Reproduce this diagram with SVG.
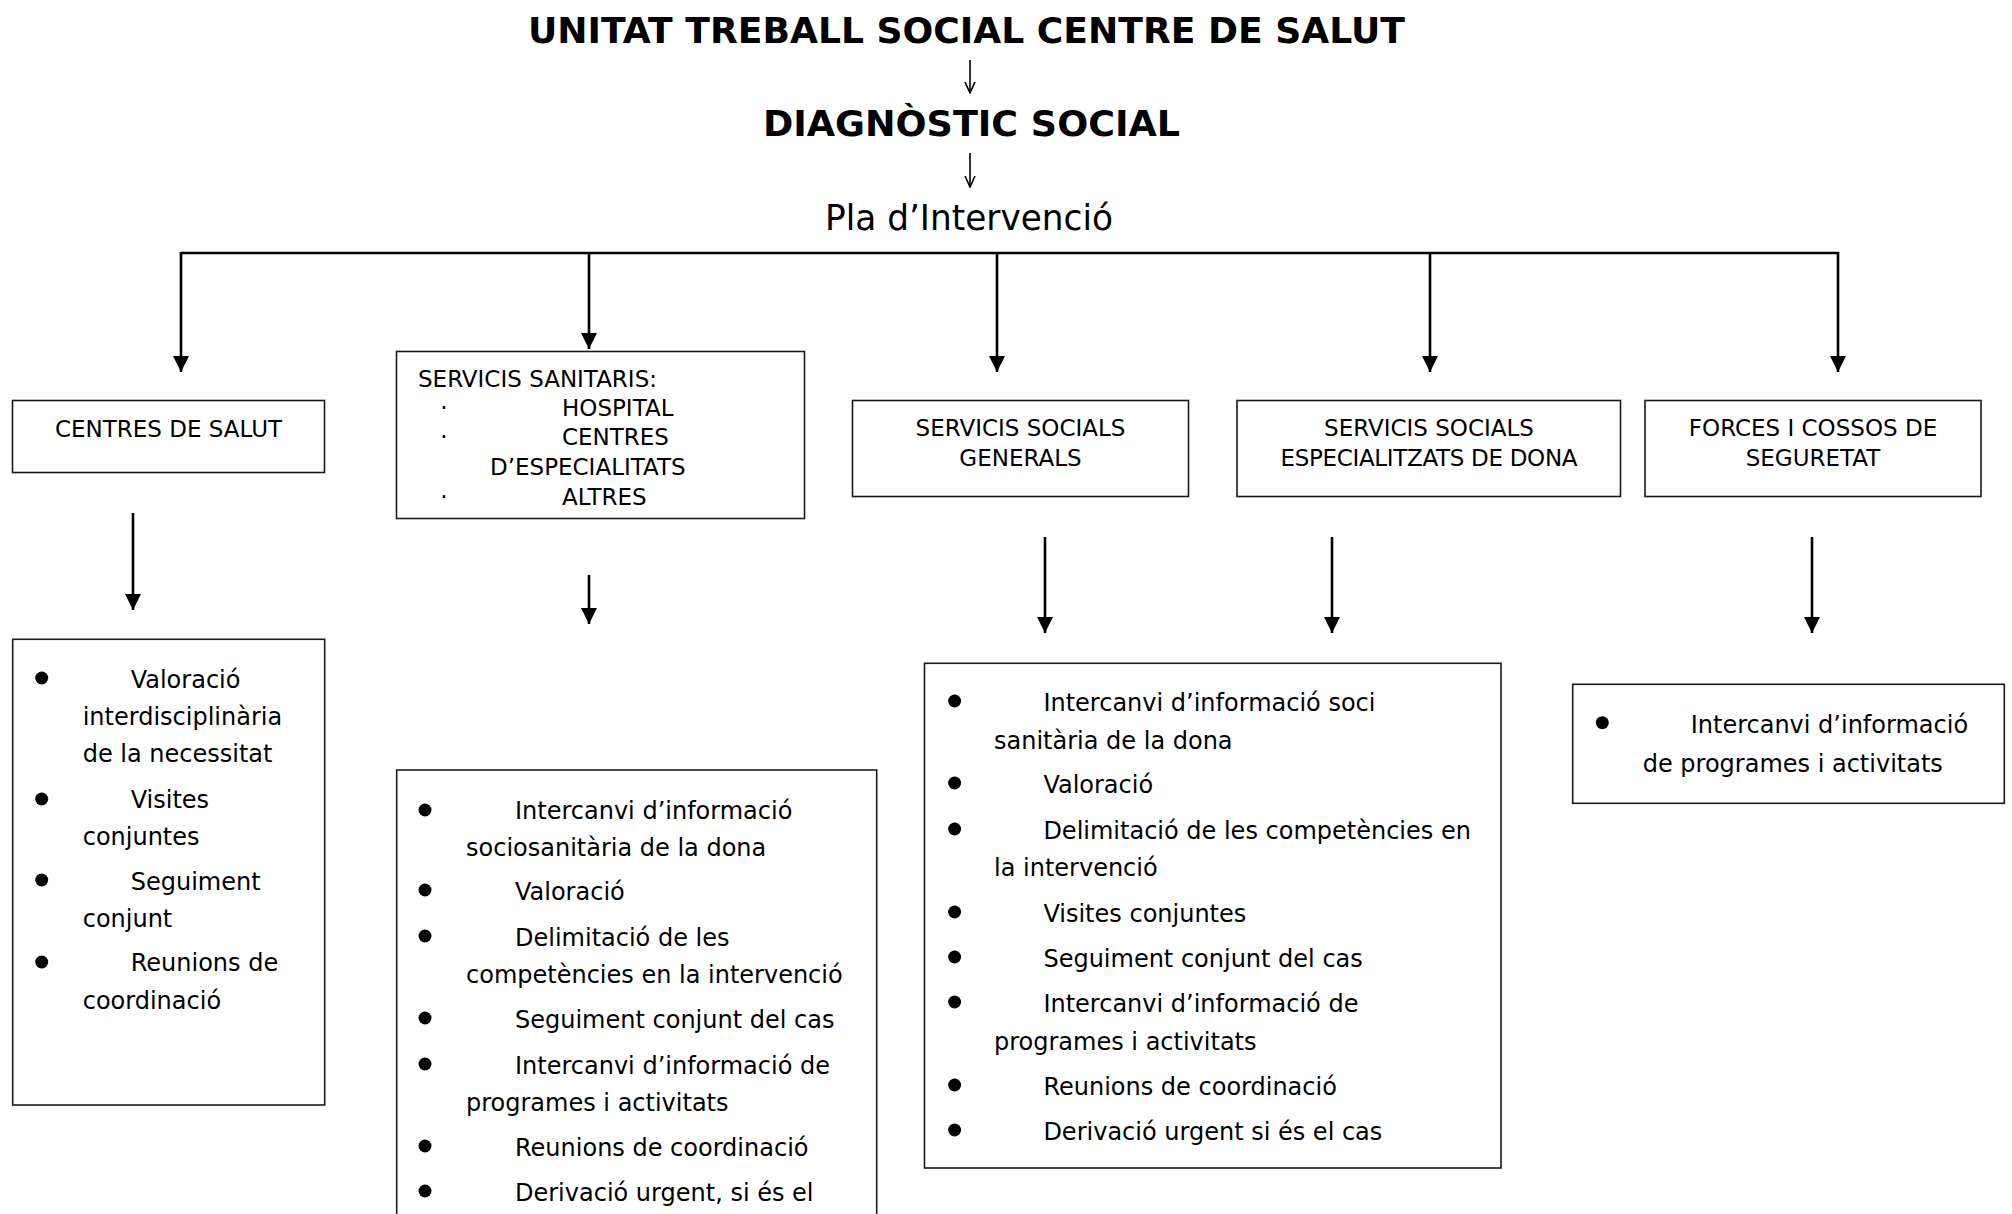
<svg xmlns="http://www.w3.org/2000/svg" width="2012" height="1214" viewBox="0 0 2012 1214">
  <style>
    .bg { fill: #ffffff; }
    .head { font-family: "DejaVu Sans", "Liberation Sans", sans-serif; font-weight: bold; font-size: 36px; fill: #000; text-anchor: middle; }
    .sub { font-family: "DejaVu Sans", "Liberation Sans", sans-serif; font-size: 35px; fill: #000; text-anchor: middle; }
    .box { fill: #ffffff; stroke: #1a1a1a; stroke-width: 1.6; }
    .lbl { font-family: "DejaVu Sans", "Liberation Sans", sans-serif; font-size: 23px; fill: #000; }
    .c { text-anchor: middle; }
    .item { font-family: "DejaVu Sans", "Liberation Sans", sans-serif; font-size: 24px; fill: #000; }
    .dot { fill: #000; }
    .wire { fill: none; stroke: #000; stroke-width: 2.6; }
    .thin { fill: none; stroke: #000; stroke-width: 1.6; }
  </style>
  <defs>
    <marker id="tri" viewBox="0 0 16 16" refX="16" refY="8" markerWidth="16" markerHeight="16" markerUnits="userSpaceOnUse" orient="auto">
      <path d="M0,0 L16,8 L0,16 Z" fill="#000"/>
    </marker>
    <marker id="open" viewBox="0 0 12 12" refX="11" refY="6" markerWidth="12" markerHeight="12" markerUnits="userSpaceOnUse" orient="auto">
      <path d="M0,1 L11,6 L0,11" fill="none" stroke="#000" stroke-width="1.6"/>
    </marker>
  </defs>
  <rect class="bg" x="0" y="0" width="2012" height="1214"/>

  <g id="title">
    <text class="head" x="966.5" y="43" textLength="877" lengthAdjust="spacingAndGlyphs">UNITAT TREBALL SOCIAL CENTRE DE SALUT</text>
  </g>
  <g id="diagnostic">
    <text class="head" x="971.5" y="136" textLength="417" lengthAdjust="spacingAndGlyphs">DIAGNÒSTIC SOCIAL</text>
  </g>
  <g id="pla">
    <text class="sub" x="969" y="230" textLength="288" lengthAdjust="spacingAndGlyphs">Pla d’Intervenció</text>
  </g>

  <g id="connectors">
    <path class="thin" d="M970,60 L970,93" marker-end="url(#open)"/>
    <path class="thin" d="M970,153 L970,187" marker-end="url(#open)"/>
    <path class="wire" d="M181,253 L1838,253"/>
    <path class="wire" d="M181,252 L181,372" marker-end="url(#tri)"/>
    <path class="wire" d="M589,252 L589,349" marker-end="url(#tri)"/>
    <path class="wire" d="M997,252 L997,372" marker-end="url(#tri)"/>
    <path class="wire" d="M1430,252 L1430,372" marker-end="url(#tri)"/>
    <path class="wire" d="M1838,252 L1838,372" marker-end="url(#tri)"/>
    <path class="wire" d="M133,513 L133,610" marker-end="url(#tri)"/>
    <path class="wire" d="M589,575 L589,624" marker-end="url(#tri)"/>
    <path class="wire" d="M1045,537 L1045,633" marker-end="url(#tri)"/>
    <path class="wire" d="M1332,537 L1332,633" marker-end="url(#tri)"/>
    <path class="wire" d="M1812,537 L1812,633" marker-end="url(#tri)"/>
  </g>

  <g id="centres-salut">
    <rect class="box" x="12.5" y="400.5" width="312" height="72"/>
    <text class="lbl c" x="168.5" y="437">CENTRES DE SALUT</text>
  </g>

  <g id="servicis-sanitaris">
    <rect class="box" x="396.5" y="351.5" width="408" height="167"/>
    <text class="lbl" x="418" y="387">SERVICIS SANITARIS:</text>
    <text class="lbl c" x="444" y="416">·</text>
    <text class="lbl" x="562" y="416">HOSPITAL</text>
    <text class="lbl c" x="444" y="445">·</text>
    <text class="lbl" x="562" y="445">CENTRES</text>
    <text class="lbl" x="490" y="475">D’ESPECIALITATS</text>
    <text class="lbl c" x="444" y="505">·</text>
    <text class="lbl" x="562" y="505">ALTRES</text>
  </g>

  <g id="servicis-socials-generals">
    <rect class="box" x="852.5" y="400.5" width="336" height="96"/>
    <text class="lbl c" x="1020.5" y="436">SERVICIS SOCIALS</text>
    <text class="lbl c" x="1020.5" y="466">GENERALS</text>
  </g>

  <g id="servicis-socials-dona">
    <rect class="box" x="1237" y="400.5" width="383.5" height="96"/>
    <text class="lbl c" x="1429" y="436">SERVICIS SOCIALS</text>
    <text class="lbl c" x="1429" y="466" textLength="297">ESPECIALITZATS DE DONA</text>
  </g>

  <g id="forces-seguretat">
    <rect class="box" x="1645" y="400.5" width="336" height="96"/>
    <text class="lbl c" x="1813" y="436">FORCES I COSSOS DE</text>
    <text class="lbl c" x="1813" y="466">SEGURETAT</text>
  </g>

  <g id="accions-centres-salut">
    <rect class="box" x="12.7" y="639.3" width="312" height="465.7"/>
    <circle class="dot" cx="41.7" cy="678" r="6.5"/>
    <text class="item" x="130.7" y="688">Valoració</text>
    <text class="item" x="82.7" y="725">interdisciplinària</text>
    <text class="item" x="82.7" y="762">de la necessitat</text>
    <circle class="dot" cx="41.7" cy="799" r="6.5"/>
    <text class="item" x="130.7" y="808">Visites</text>
    <text class="item" x="82.7" y="845">conjuntes</text>
    <circle class="dot" cx="41.7" cy="880" r="6.5"/>
    <text class="item" x="130.7" y="890">Seguiment</text>
    <text class="item" x="82.7" y="927">conjunt</text>
    <circle class="dot" cx="41.7" cy="962" r="6.5"/>
    <text class="item" x="130.7" y="971">Reunions de</text>
    <text class="item" x="82.7" y="1009">coordinació</text>
  </g>

  <g id="accions-servicis-sanitaris">
    <rect class="box" x="396.7" y="770" width="480" height="470"/>
    <circle class="dot" cx="425" cy="810" r="6.5"/>
    <text class="item" x="515" y="819">Intercanvi d’informació</text>
    <text class="item" x="466" y="856">sociosanitària de la dona</text>
    <circle class="dot" cx="425" cy="890" r="6.5"/>
    <text class="item" x="515" y="900">Valoració</text>
    <circle class="dot" cx="425" cy="936" r="6.5"/>
    <text class="item" x="515" y="946">Delimitació de les</text>
    <text class="item" x="466" y="983">competències en la intervenció</text>
    <circle class="dot" cx="425" cy="1018" r="6.5"/>
    <text class="item" x="515" y="1028">Seguiment conjunt del cas</text>
    <circle class="dot" cx="425" cy="1064" r="6.5"/>
    <text class="item" x="515" y="1074">Intercanvi d’informació de</text>
    <text class="item" x="466" y="1111">programes i activitats</text>
    <circle class="dot" cx="425" cy="1146" r="6.5"/>
    <text class="item" x="515" y="1156">Reunions de coordinació</text>
    <circle class="dot" cx="425" cy="1191" r="6.5"/>
    <text class="item" x="515" y="1201">Derivació urgent, si és el</text>
  </g>

  <g id="accions-servicis-socials">
    <rect class="box" x="924.5" y="663.3" width="576.5" height="504.7"/>
    <circle class="dot" cx="954.6" cy="701" r="6.5"/>
    <text class="item" x="1043.4" y="711">Intercanvi d’informació soci</text>
    <text class="item" x="994" y="749">sanitària de la dona</text>
    <circle class="dot" cx="954.6" cy="783" r="6.5"/>
    <text class="item" x="1043.4" y="793">Valoració</text>
    <circle class="dot" cx="954.6" cy="829" r="6.5"/>
    <text class="item" x="1043.4" y="839">Delimitació de les competències en</text>
    <text class="item" x="994" y="876">la intervenció</text>
    <circle class="dot" cx="954.6" cy="912" r="6.5"/>
    <text class="item" x="1043.4" y="922">Visites conjuntes</text>
    <circle class="dot" cx="954.6" cy="957" r="6.5"/>
    <text class="item" x="1043.4" y="967">Seguiment conjunt del cas</text>
    <circle class="dot" cx="954.6" cy="1002" r="6.5"/>
    <text class="item" x="1043.4" y="1012">Intercanvi d’informació de</text>
    <text class="item" x="994" y="1050">programes i activitats</text>
    <circle class="dot" cx="954.6" cy="1085" r="6.5"/>
    <text class="item" x="1043.4" y="1095">Reunions de coordinació</text>
    <circle class="dot" cx="954.6" cy="1130" r="6.5"/>
    <text class="item" x="1043.4" y="1140">Derivació urgent si és el cas</text>
  </g>

  <g id="accions-forces-seguretat">
    <rect class="box" x="1572.7" y="684.3" width="431.6" height="119"/>
    <circle class="dot" cx="1602.3" cy="722.7" r="6.5"/>
    <text class="item" x="1690.7" y="733">Intercanvi d’informació</text>
    <text class="item" x="1642.7" y="772">de programes i activitats</text>
  </g>
</svg>
